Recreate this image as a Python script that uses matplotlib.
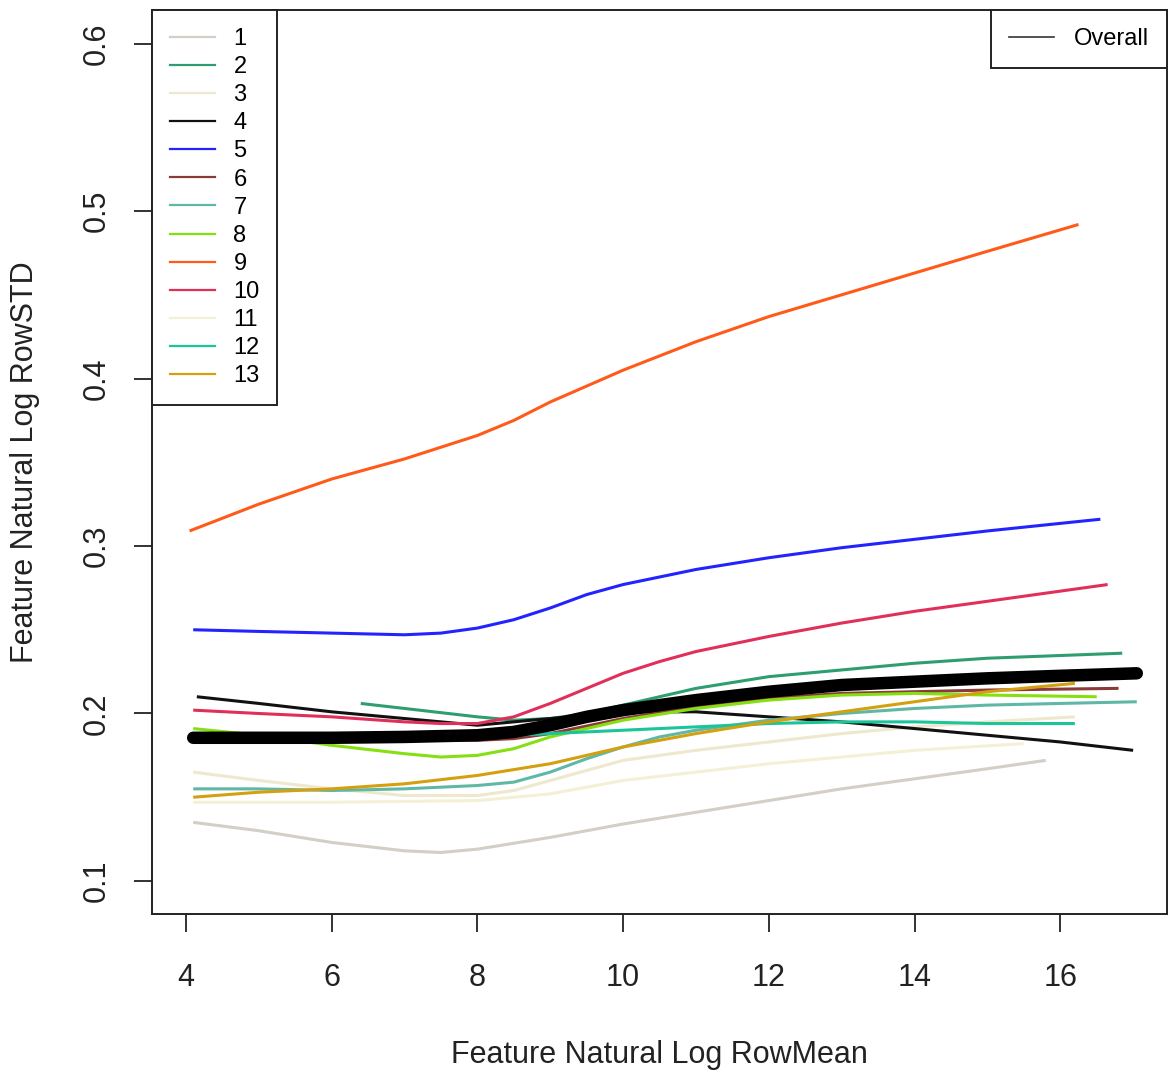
import matplotlib
matplotlib.use("Agg")
import matplotlib.pyplot as plt
from matplotlib.lines import Line2D

plt.rcParams['font.family'] = ['Liberation Sans', 'DejaVu Sans']

# curves: (x, y) per group
x1 = [4.1, 5, 6, 7, 7.5, 8, 9, 10, 11, 12, 13, 14, 15, 15.8]
y1 = [0.135, 0.130, 0.123, 0.118, 0.117, 0.119, 0.126, 0.134, 0.141, 0.148, 0.155, 0.161, 0.167, 0.172]
x2 = [6.4, 7, 8, 8.5, 9, 9.5, 10, 10.5, 11, 12, 13, 14, 15, 16.85]
y2 = [0.206, 0.203, 0.198, 0.196, 0.197, 0.200, 0.205, 0.210, 0.215, 0.222, 0.226, 0.230, 0.233, 0.236]
x3 = [4.1, 5, 6, 7, 8, 8.5, 9, 10, 11, 12, 13, 14, 15, 16.2]
y3 = [0.165, 0.160, 0.155, 0.151, 0.151, 0.154, 0.160, 0.172, 0.178, 0.183, 0.188, 0.192, 0.195, 0.198]
x4 = [4.15, 5, 6, 7, 7.5, 8, 9, 10, 11, 12, 13, 14, 15, 16, 17]
y4 = [0.210, 0.206, 0.201, 0.197, 0.195, 0.193, 0.197, 0.201, 0.201, 0.198, 0.195, 0.191, 0.187, 0.183, 0.178]
x5 = [4.1, 5, 6, 7, 7.5, 8, 8.5, 9, 9.5, 10, 11, 12, 13, 14, 15, 16.55]
y5 = [0.250, 0.249, 0.248, 0.247, 0.248, 0.251, 0.256, 0.263, 0.271, 0.277, 0.286, 0.293, 0.299, 0.304, 0.309, 0.316]
x6 = [4.1, 6, 8, 8.5, 9, 10, 11, 12, 13, 14, 15, 16.8]
y6 = [0.186, 0.185, 0.184, 0.185, 0.188, 0.197, 0.204, 0.209, 0.212, 0.213, 0.214, 0.215]
x7 = [4.1, 5, 6, 7, 8, 8.5, 9, 9.5, 10, 10.5, 11, 12, 13, 14, 15, 16, 17.05]
y7 = [0.155, 0.155, 0.154, 0.155, 0.157, 0.159, 0.165, 0.173, 0.180, 0.186, 0.190, 0.196, 0.200, 0.203, 0.205, 0.206, 0.207]
x8 = [4.1, 5, 6, 7, 7.5, 8, 8.5, 9, 9.5, 10, 11, 12, 13, 14, 15, 16.5]
y8 = [0.191, 0.187, 0.181, 0.176, 0.174, 0.175, 0.179, 0.186, 0.191, 0.196, 0.203, 0.208, 0.211, 0.212, 0.211, 0.210]
x9 = [4.05, 5, 6, 7, 8, 8.5, 9, 10, 11, 12, 13, 14, 15, 16.25]
y9 = [0.309, 0.325, 0.340, 0.352, 0.366, 0.375, 0.386, 0.405, 0.422, 0.437, 0.450, 0.463, 0.476, 0.492]
x10 = [4.1, 5, 6, 7, 7.5, 8, 8.5, 9, 9.5, 10, 10.5, 11, 12, 13, 14, 15, 16.65]
y10 = [0.202, 0.200, 0.198, 0.195, 0.194, 0.194, 0.198, 0.206, 0.215, 0.224, 0.231, 0.237, 0.246, 0.254, 0.261, 0.267, 0.277]
x11 = [4.1, 6, 8, 9, 10, 12, 14, 15.5]
y11 = [0.147, 0.147, 0.148, 0.152, 0.160, 0.170, 0.178, 0.182]
x12 = [4.1, 6, 8, 8.5, 9, 10, 11, 12, 13, 14, 15, 16.2]
y12 = [0.186, 0.186, 0.186, 0.187, 0.188, 0.190, 0.192, 0.194, 0.195, 0.195, 0.194, 0.194]
x13 = [4.1, 5, 6, 7, 8, 9, 10, 11, 12, 13, 14, 15, 16.2]
y13 = [0.150, 0.153, 0.155, 0.158, 0.163, 0.170, 0.180, 0.188, 0.195, 0.201, 0.207, 0.213, 0.218]

x_all = [4.1, 5, 6, 7, 8, 8.5, 9, 9.5, 10, 10.5, 11, 12, 13, 14, 15, 16, 17.05]
y_all = [0.1855, 0.1855, 0.1855, 0.186, 0.187, 0.189, 0.193, 0.198, 0.202, 0.205, 0.208, 0.213, 0.217, 0.219, 0.221, 0.2225, 0.224]

labels = [str(i) for i in range(1, 14)]
xs = [x1, x2, x3, x4, x5, x6, x7, x8, x9, x10, x11, x12, x13]
ys = [y1, y2, y3, y4, y5, y6, y7, y8, y9, y10, y11, y12, y13]
colors = ['#d3cec6', '#2e9e70', '#eee8cc', '#111111', '#2323ff', '#8b3a3a', '#5fb8a6',
          '#84e010', '#ff5a1a', '#e0305a', '#f3f0d6', '#1cc49a', '#d4a010']

fig = plt.figure(figsize=(11.69, 10.76), dpi=100)
ax = fig.add_axes([0.130, 0.1506, 0.868, 0.840])

for x, y, c in zip(xs, ys, colors):
    ax.plot(x, y, color=c, lw=2.2, solid_capstyle='butt')
ax.plot(x_all, y_all, color='black', lw=9, solid_capstyle='round')

ax.set_xlim(3.534, 17.46)
ax.set_ylim(0.0803, 0.620)
ax.set_xticks([4, 6, 8, 10, 12, 14, 16])
ax.set_yticks([0.1, 0.2, 0.3, 0.4, 0.5, 0.6])
ax.set_yticklabels(['0.1', '0.2', '0.3', '0.4', '0.5', '0.6'], rotation=90, va='center')
ax.tick_params(direction='out', length=13, width=1.3, labelsize=22, colors='#222222')
ax.tick_params(axis='x', pad=22)
ax.tick_params(axis='y', pad=16)
for s in ax.spines.values():
    s.set_linewidth(1.4)
    s.set_color('#222222')

ax.set_xlabel('Feature Natural Log RowMean', fontsize=22, labelpad=34, color='#222222')
ax.set_ylabel('Feature Natural Log RowSTD', fontsize=22, labelpad=30, color='#222222')

handles = [Line2D([], [], color=c, lw=1.6) for c in colors]
leg = ax.legend(handles, labels, loc='upper left', bbox_to_anchor=(0, 1), borderaxespad=0,
                fontsize=17, frameon=True, fancybox=False, edgecolor='#222222', framealpha=1,
                labelspacing=0.26, handlelength=1.9, handletextpad=0.8, borderpad=0.75)
leg.get_frame().set_linewidth(1.4)
ax.add_artist(leg)

leg2 = ax.legend([Line2D([], [], color='#333333', lw=1.2)], ['Overall'], loc='upper right',
                 bbox_to_anchor=(1, 1), borderaxespad=0, fontsize=17, frameon=True, fancybox=False,
                 edgecolor='#222222', framealpha=1, handlelength=1.9, handletextpad=0.85,
                 borderpad=0.75)
leg2.get_frame().set_linewidth(1.4)

fig.savefig('out.png', dpi=100)
